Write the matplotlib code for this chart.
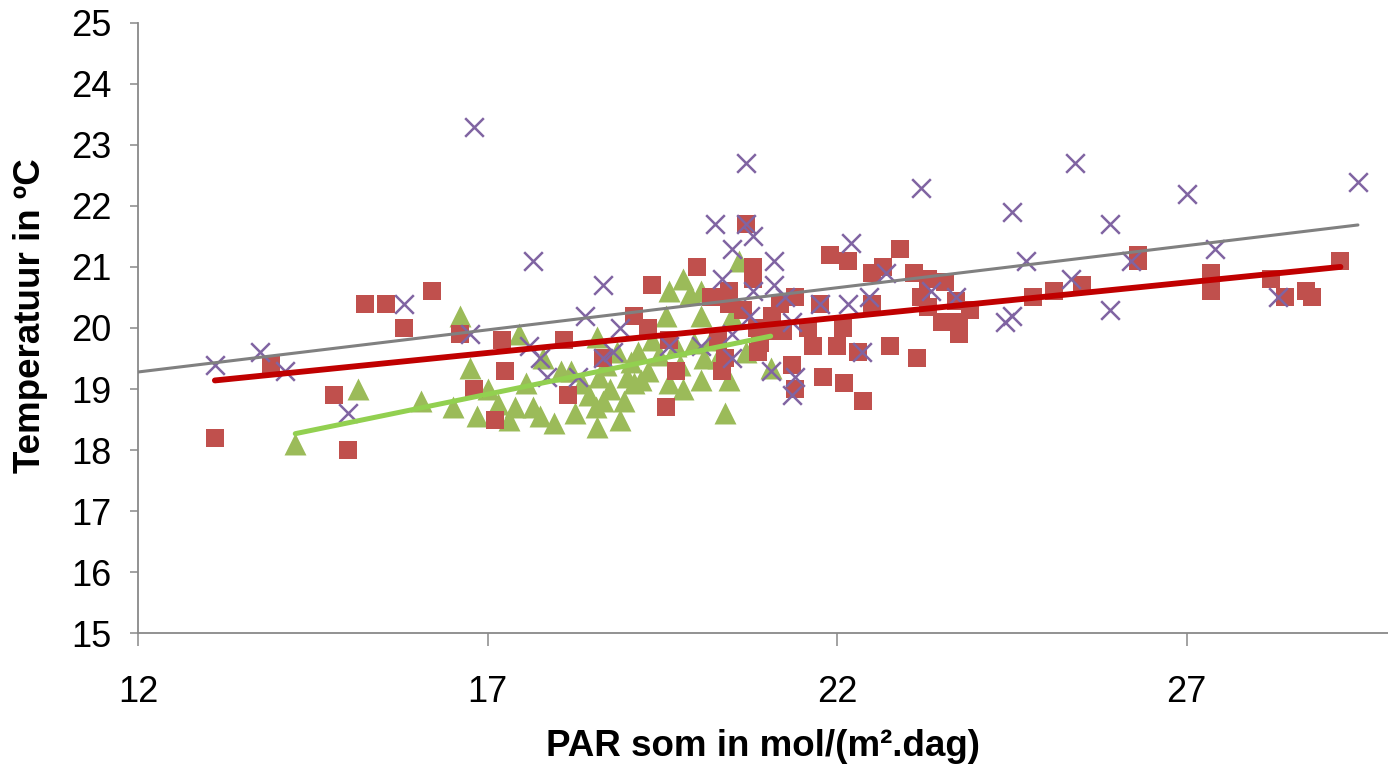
import numpy as np
import matplotlib
matplotlib.use("Agg")
import matplotlib.pyplot as plt

plt.rcParams['font.family'] = ['Liberation Sans', 'DejaVu Sans']

# PAR sum (mol/m2/day) and temperature (degC) per series
red_x = [13.1, 13.9, 14.8, 15.0, 15.25, 15.55, 15.8, 16.2, 16.6, 16.8, 17.1, 17.2, 17.25,
         18.1, 18.15, 18.65, 19.1, 19.3, 19.35, 19.55, 19.6, 19.7, 20.0, 20.2, 20.3, 20.35,
         20.45, 20.45, 20.65, 20.7, 20.8, 20.8, 20.87, 20.85, 20.9, 21.0, 21.07, 21.18, 20.4,
         21.35, 21.4, 21.4, 21.23, 21.58, 21.75, 21.66, 21.8, 21.9, 22.0, 22.08, 22.1, 22.15,
         22.3, 22.37, 22.5, 22.5, 22.65, 22.75, 22.9, 23.1, 23.15, 23.2, 23.3, 23.3, 23.5,
         23.55, 23.7, 23.75, 23.75, 23.9, 24.8, 25.1, 25.5, 26.3, 26.3, 27.35, 27.35, 28.2,
         28.4, 28.7, 28.8, 29.2]
red_y = [18.2, 19.4, 18.9, 18.0, 20.4, 20.4, 20.0, 20.6, 19.9, 19.0, 18.5, 19.8, 19.3,
         19.8, 18.9, 19.5, 20.2, 20.0, 20.7, 18.7, 19.8, 19.3, 21.0, 20.5, 19.8, 19.3,
         20.6, 20.4, 20.3, 21.7, 21.0, 20.8, 19.6, 20.0, 19.75, 19.95, 20.2, 20.4, 19.5,
         19.4, 19.0, 20.5, 19.95, 20.0, 20.4, 19.7, 19.2, 21.2, 19.7, 20.0, 19.1, 21.1,
         19.6, 18.8, 20.9, 20.4, 21.0, 19.7, 21.3, 20.9, 19.5, 20.5, 20.8, 20.35, 20.1,
         20.75, 20.45, 20.1, 19.9, 20.3, 20.5, 20.6, 20.7, 21.2, 21.1, 20.9, 20.6, 20.8,
         20.5, 20.6, 20.5, 21.1]

green_x = [14.25, 15.15, 16.05, 16.5, 16.6, 16.75, 16.85, 17.0, 17.15, 17.3, 17.4, 17.45,
           17.55, 17.65, 17.75, 17.8, 17.95, 18.05, 18.2, 18.25, 18.35, 18.45, 18.55, 18.57,
           18.6, 18.57, 18.65, 18.7, 18.75, 18.85, 18.9, 18.95, 19.0, 19.05, 19.1, 19.15,
           19.2, 19.3, 19.35, 19.45, 19.55, 19.6, 19.6, 19.7, 19.75, 19.8, 19.8, 19.9,
           19.95, 20.05, 20.05, 20.05, 20.1, 20.2, 20.3, 20.4, 20.45, 20.5, 20.6, 20.7, 21.05]
green_y = [18.1, 19.0, 18.8, 18.7, 20.2, 19.35, 18.55, 19.0, 18.75, 18.5, 18.7, 19.9,
           19.1, 18.7, 18.55, 19.5, 18.45, 19.3, 19.3, 18.6, 19.1, 18.9, 18.7, 18.38,
           19.2, 19.85, 18.8, 19.4, 19.0, 19.6, 18.5, 18.8, 19.2, 19.45, 19.1, 19.6,
           19.15, 19.3, 19.8, 19.55, 20.2, 20.6, 19.1, 19.7, 19.4, 20.8, 19.0, 20.55,
           19.75, 20.6, 20.2, 19.15, 19.5, 19.8, 19.5, 18.6, 19.15, 20.2, 21.1, 19.6, 19.35]

purple_x = [13.1, 13.75, 14.1, 15.0, 15.8, 16.75, 16.8, 17.6, 17.65, 17.75, 17.85, 18.3,
            18.4, 18.65, 18.65, 18.8, 18.9, 19.6, 20.05, 20.25, 20.35, 20.5, 20.5, 20.5,
            20.7, 20.7, 20.75, 20.8, 20.8, 21.05, 21.1, 21.1, 21.25, 21.35, 21.35, 21.4,
            21.75, 22.15, 22.2, 22.35, 22.45, 22.7, 23.2, 23.35, 23.7, 24.4, 24.5, 24.5,
            24.7, 25.35, 25.4, 25.9, 25.9, 26.2, 27.0, 27.4, 28.3, 29.45]
purple_y = [19.4, 19.6, 19.3, 18.6, 20.4, 19.9, 23.3, 19.7, 21.1, 19.5, 19.2, 19.2,
            20.2, 20.7, 19.5, 19.6, 20.0, 19.7, 19.7, 21.7, 20.8, 21.3, 19.9, 19.5,
            22.7, 21.7, 20.2, 21.5, 20.6, 19.3, 21.1, 20.7, 20.5, 20.1, 18.9, 19.2,
            20.4, 20.4, 21.4, 19.6, 20.5, 20.9, 22.3, 20.6, 20.5, 20.1, 20.2, 21.9,
            21.1, 20.8, 22.7, 21.7, 20.3, 21.1, 22.2, 21.3, 20.5, 22.4]

x_ticks = [12, 17, 22, 27]
y_ticks = list(range(15, 26))

RED, GREEN, PURPLE = '#C0504D', '#9BBB59', '#8064A2'

fig = plt.figure(figsize=(13.88, 7.65), dpi=100)
ax = fig.add_axes([0.0994, 0.1725, 0.9006, 0.7975])

ax.scatter(green_x, green_y, marker='^', s=250, color=GREEN, linewidths=0, zorder=2)
ax.scatter(red_x, red_y, marker='s', s=175, color=RED, linewidths=0, zorder=3)
ax.scatter(purple_x, purple_y, marker='x', s=180, color=PURPLE, linewidths=1.8, zorder=4)

xmin_axis = 12


def trend(xs, ys, x0, x1):
    k, b = np.polyfit(xs, ys, 1)
    xx = np.array([x0, x1])
    return xx, k * xx + b


tx, ty = trend(purple_x, purple_y, xmin_axis, max(purple_x))
ax.plot(tx, ty, color='#808080', lw=2.2, solid_capstyle='round', zorder=5)
tx, ty = trend(red_x, red_y, min(red_x), max(red_x))
ax.plot(tx, ty, color='#C00000', lw=4.2, solid_capstyle='round', zorder=6)
tx, ty = trend(green_x, green_y, min(green_x), max(green_x))
ax.plot(tx, ty, color='#92D050', lw=3.6, solid_capstyle='round', zorder=6)

ax.set_xlim(12, 29.88)
ax.set_ylim(15, 25)
ax.set_xticks(x_ticks)
ax.set_yticks(y_ticks)

for s in ['top', 'right']:
    ax.spines[s].set_visible(False)
for s in ['left', 'bottom']:
    ax.spines[s].set_color('#898989')
    ax.spines[s].set_linewidth(1.3)

ax.tick_params(axis='x', direction='out', length=9, width=1.1, color='#898989',
               pad=21, labelsize=26, labelcolor='black')
ax.tick_params(axis='y', direction='out', length=6, width=1.1, color='#898989',
               pad=13, labelsize=26, labelcolor='black')

ax.set_xlabel('PAR som in mol/(m².dag)', fontsize=26.5, fontweight='bold', labelpad=14)
ax.set_ylabel('Temperatuur in ºC', fontsize=26.5, fontweight='bold')
ax.yaxis.set_label_coords(-0.072, 0.52)

fig.savefig('out.png', dpi=100)
